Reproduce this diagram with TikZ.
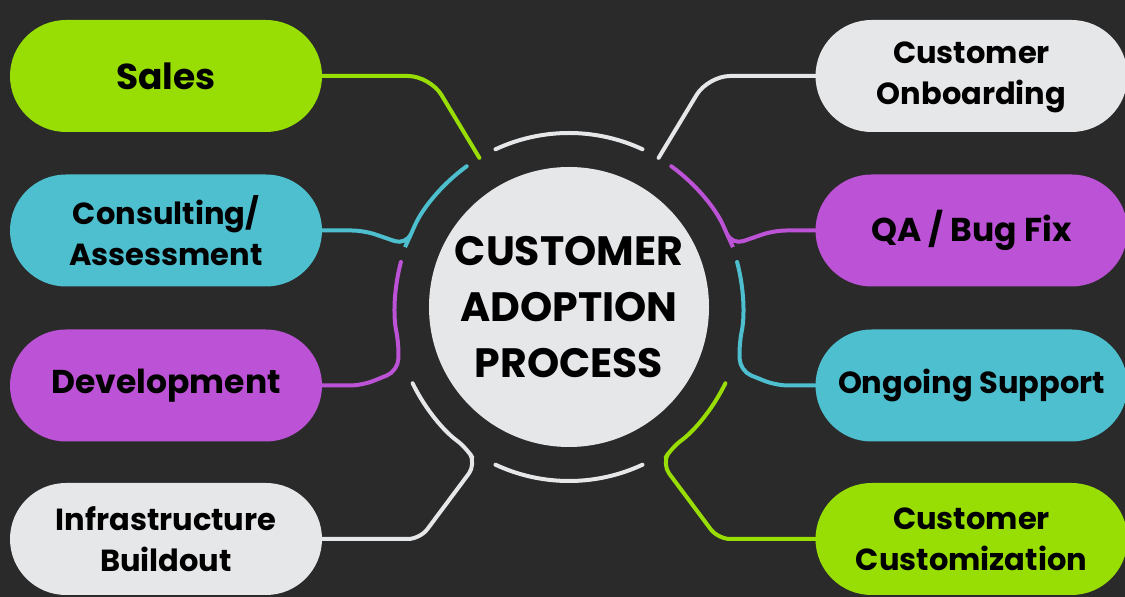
\documentclass[tikz,border=0pt]{standalone}
\usepackage{fontspec}
\setmainfont{Poppins}
\usepackage{tikz}
\usetikzlibrary{calc}
\usetikzlibrary{shapes.misc}
\newcommand{\ringrad}{174pt}
\newcommand{\leftcol}{166}
\newcommand{\rightcol}{971.5}
\newcommand{\stagefont}[1]{\bfseries\fontsize{#1}{41}\selectfont}
\definecolor{bgdark}{HTML}{2A2A2A}
\definecolor{adoptgreen}{HTML}{98DE04}
\definecolor{adoptcyan}{HTML}{4DBFCF}
\definecolor{adoptpurple}{HTML}{BC52D5}
\definecolor{adoptgrey}{HTML}{E6E7E9}
\tikzstyle{stagebox}=[rounded rectangle, minimum width=312pt, minimum height=112pt, inner sep=0pt, align=center, text=black]
\tikzstyle{ringedge}=[line width=4pt, line cap=round, rounded corners=12pt]

\begin{document}
\begin{tikzpicture}[x=1pt,y=1pt]
  \fill[bgdark] (0,0) rectangle (1125,597);
  \useasboundingbox (0,0) rectangle (1125,597);
  % hub
  \node[circle, fill=adoptgrey, minimum size=280pt, inner sep=0pt, align=center,
    font=\bfseries\fontsize{41}{56}\selectfont] (hub) at (569,290)
    {CUSTOMER\\ADOPTION\\PROCESS};
  % stages, left
  \node[stagebox, fill=adoptgreen, font=\stagefont{36}] (sales) at (\leftcol,521) {Sales};
  \node[stagebox, fill=adoptcyan, font=\stagefont{30.5}] (consult) at (\leftcol,366.5)
    {Consulting/\\Assessment};
  \node[stagebox, fill=adoptpurple, font=\stagefont{33}] (devel) at (\leftcol,211.5)
    {Development};
  \node[stagebox, fill=adoptgrey, font=\stagefont{30.5}] (infra) at (\leftcol,58)
    {Infrastructure\\Buildout};
  % stages, right
  \node[stagebox, fill=adoptgrey, font=\stagefont{30.5}] (onboard) at (\rightcol,521)
    {\raisebox{-5pt}{\begin{tabular}{@{}c@{}}Customer\\Onboarding\end{tabular}}};
  \node[stagebox, fill=adoptpurple, font=\stagefont{33}] (qa) at (\rightcol,366.5)
    {QA / Bug Fix};
  \node[stagebox, fill=adoptcyan, font=\stagefont{30.5}] (ongoing) at (\rightcol,211.5)
    {Ongoing Support};
  \node[stagebox, fill=adoptgreen, font=\stagefont{30.5}] (custom) at (\rightcol,58)
    {Customer\\Customization};
  % ring pieces
  \draw[ringedge, adoptgrey] ($(hub)+(65:\ringrad)$) arc (65:115:\ringrad);
  \draw[ringedge, adoptgrey] ($(hub)+(245:\ringrad)$) arc (245:295:\ringrad);
  % connectors
  \draw[ringedge, rounded corners=22pt, adoptgreen] (sales.east) -- (430,521)
    -- ($(hub)+(121:\ringrad)$);
  \draw[ringedge, adoptcyan] ($(hub)+(126:\ringrad)$) arc (126:156:\ringrad)
    -- (406,352) -- (364,366.5) -- (consult.east);
  \draw[ringedge, adoptpurple] ($(hub)+(165:\ringrad)$) arc (165:192:\ringrad)
    -- (398,226) -- (362,211.5) -- (devel.east);
  \draw[ringedge, adoptgrey] ($(hub)+(206:\ringrad)$) arc (206:234:\ringrad)
    -- (476,133) -- (420,58) -- (infra.east);
  \draw[ringedge, rounded corners=22pt, adoptgrey] (onboard.west) -- (708,521)
    -- ($(hub)+(59:\ringrad)$);
  \draw[ringedge, adoptpurple] ($(hub)+(54:\ringrad)$) arc (54:24:\ringrad)
    -- (732,352) -- (774,366.5) -- (qa.west);
  \draw[ringedge, adoptcyan] ($(hub)+(15:\ringrad)$) arc (15:-12:\ringrad)
    -- (740,226) -- (776,211.5) -- (ongoing.west);
  \draw[ringedge, adoptgreen] ($(hub)+(-26:\ringrad)$) arc (-26:-54:\ringrad)
    -- (662,133) -- (718,58) -- (custom.west);
\end{tikzpicture}
\end{document}
